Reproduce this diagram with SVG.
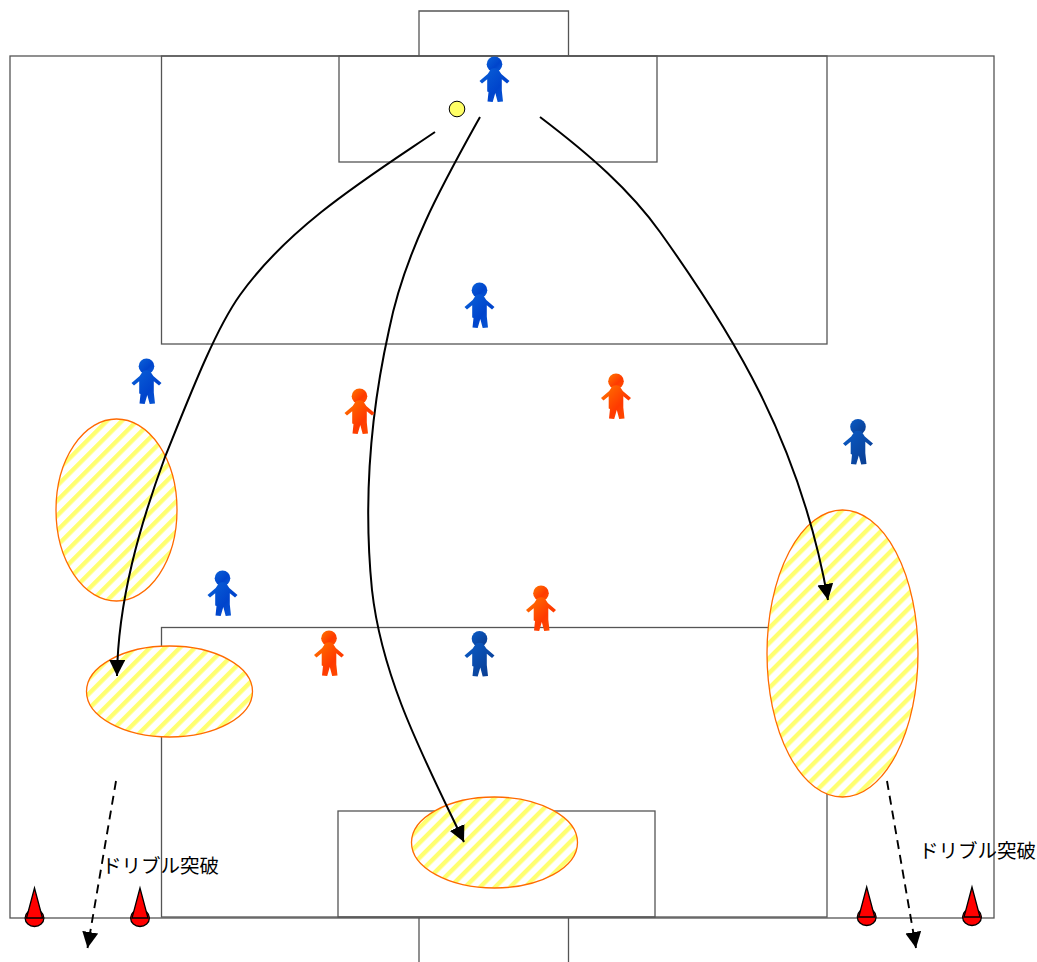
<svg xmlns="http://www.w3.org/2000/svg" width="1037" height="962" viewBox="0 0 1037 962">
<style>
.f{fill:none;stroke:#555;stroke-width:1.3}
.z{fill:url(#st);stroke:#ff6a00;stroke-width:1.3}
.a{fill:none;stroke:#000;stroke-width:2}
.d{fill:none;stroke:#000;stroke-width:1.9;stroke-dasharray:9 6}
.t{font-family:"Liberation Sans","Noto Sans CJK JP",sans-serif;font-size:19.5px;fill:#000}
.c{fill:#f00;stroke:#000;stroke-width:1.3}
</style>
<defs>
<pattern id="st" width="10.6" height="10.6" patternUnits="userSpaceOnUse" patternTransform="rotate(45)">
<rect width="10.6" height="10.6" fill="#fff"/><rect width="4.4" height="10.6" fill="#ffff70"/>
</pattern>
<marker id="ah" markerUnits="userSpaceOnUse" markerWidth="18" markerHeight="18" refX="16" refY="8" orient="auto"><path d="M0 0L16 8L0 16Z" fill="#000"/></marker>
<linearGradient id="bl" x1="0" x2="1" y1="0" y2="1"><stop offset="0" stop-color="#0a62d8"/><stop offset=".6" stop-color="#0044cc"/><stop offset="1" stop-color="#0a5cd8"/></linearGradient>
<linearGradient id="db" x1="0" x2="1" y1="0" y2="1"><stop offset="0" stop-color="#0a5cc8"/><stop offset="1" stop-color="#0a3a8c"/></linearGradient>
<linearGradient id="rd" x1="0" x2="1" y1="0" y2="1"><stop offset="0" stop-color="#ff7800"/><stop offset=".6" stop-color="#ff3a00"/><stop offset="1" stop-color="#ff5000"/></linearGradient>
<g id="p">
<circle cx="0" cy="7.800" r="7.800"/>
<path d="M-3.500 12.500Q0 11 3.500 12.500L6.800 17.500L15 24.500L12.500 27L7.300 22.800V34L8.500 45L3.200 45.500L0.800 36.500L-1.800 45.500L-7 45L-6 35.500L-7.300 35V22.800L-12.500 27L-15 24.500L-6.800 17.500Z"/>
</g>
</defs>
<g id="field">
<rect class="f" x="10" y="56" width="984" height="862"/>
<rect class="f" x="161.500" y="56" width="665.500" height="288"/>
<rect class="f" x="339" y="56" width="318" height="106"/>
<path class="f" d="M419 56V11H568.500V56"/>
<rect class="f" x="161.500" y="627.500" width="665.500" height="289.500"/>
<rect class="f" x="338" y="811" width="317" height="106"/>
<path class="f" d="M419 918V962M568.500 918V962"/>
</g>
<g id="zones">
<ellipse id="zone1" class="z" cx="116.500" cy="510" rx="60.500" ry="91"/>
<ellipse id="zone2" class="z" cx="169.500" cy="691.500" rx="83" ry="45.500"/>
<ellipse id="zone3" class="z" cx="494.500" cy="842.500" rx="83" ry="45.500"/>
<ellipse id="zone4" class="z" cx="842.500" cy="653.500" rx="75.500" ry="143.500"/>
</g>
<g id="connectors">
<path class="a" marker-end="url(#ah)" d="M435 132C370 176 290 225 240 295C215 330 190 395 165 457C140 525 118 600 117 676"/>
<path class="a" marker-end="url(#ah)" d="M480 117C445 180 405 250 389 330C369 420 364 510 372 590C382 680 425 760 464 842"/>
<path class="a" marker-end="url(#ah)" d="M540 117C590 155 630 190 660 232C730 330 800 440 828 600"/>
<path class="d" marker-end="url(#ah)" d="M116 781L87.500 948"/>
<path class="d" marker-end="url(#ah)" d="M887 781L916 948"/>
</g>
<g id="ball"><circle cx="457" cy="109" r="7.800" fill="#ffff66" stroke="#000" stroke-width="1"/></g>
<g id="b1"><use href="#p" x="494.500" y="56.500" fill="url(#bl)"/></g>
<g id="b2"><use href="#p" x="479.500" y="282.500" fill="url(#bl)"/></g>
<g id="b3"><use href="#p" x="146.500" y="358.500" fill="url(#bl)"/></g>
<g id="b4"><use href="#p" x="858" y="419" fill="url(#db)"/></g>
<g id="b5"><use href="#p" x="222.500" y="570.500" fill="url(#bl)"/></g>
<g id="b6"><use href="#p" x="479.500" y="631" fill="url(#db)"/></g>
<g id="r1"><use href="#p" x="359.500" y="388.500" fill="url(#rd)"/></g>
<g id="r2"><use href="#p" x="616" y="373.500" fill="url(#rd)"/></g>
<g id="r3"><use href="#p" x="541" y="585.500" fill="url(#rd)"/></g>
<g id="r4"><use href="#p" x="329" y="630.500" fill="url(#rd)"/></g>
<g id="cones">
<g id="c1"><ellipse class="c" cx="34.500" cy="918" rx="9.400" ry="8.500"/><path class="c" d="M34.500 888L26.500 918H42.500Z"/></g>
<g id="c2"><ellipse class="c" cx="140" cy="918" rx="9.400" ry="8.500"/><path class="c" d="M140 888L132 918H148Z"/></g>
<g id="c3"><ellipse class="c" cx="866.700" cy="917" rx="9.400" ry="8.500"/><path class="c" d="M866.700 887L858.700 917H874.700Z"/></g>
<g id="c4"><ellipse class="c" cx="972" cy="917" rx="9.400" ry="8.500"/><path class="c" d="M972 887L964 917H980Z"/></g>
</g>
<g id="labels">
<text class="t" x="102" y="873">ドリブル突破</text>
<text class="t" x="919" y="858">ドリブル突破</text>
</g>
</svg>
